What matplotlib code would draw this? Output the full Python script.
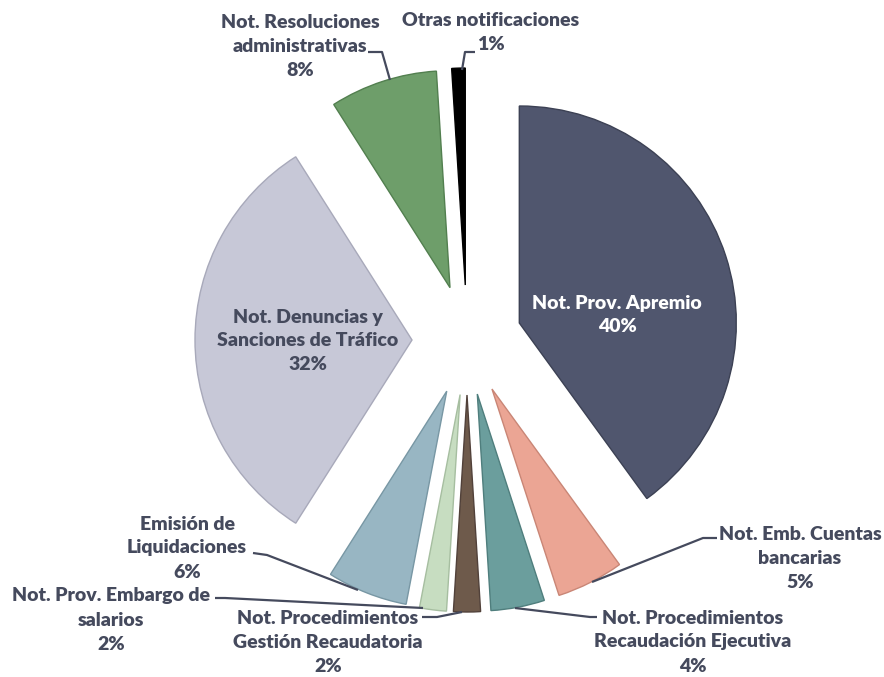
import matplotlib.pyplot as plt

# slice data, clockwise from 12 o'clock
categories = ['Not. Prov. Apremio', 'Not. Emb. Cuentas\nbancarias',
              'Not. Procedimientos\nRecaudación Ejecutiva',
              'Not. Procedimientos\nGestión Recaudatoria',
              'Not. Prov. Embargo de\nsalarios', 'Emisión de\nLiquidaciones',
              'Not. Denuncias y\nSanciones de Tráfico',
              'Not. Resoluciones\nadministrativas', 'Otras notificaciones']
shares = [40, 5, 4, 2, 2, 6, 32, 8, 1]
colors = ['#50566e', '#eba594', '#6b9e9d', '#6e5a4b', '#c7ddc1',
          '#98b6c3', '#c7c8d7', '#6e9e6a', '#000000']
edge_colors = ['#3c4154', '#c98676', '#4f7e7d', '#51413a', '#a6bea0',
               '#7897a4', '#a8a9ba', '#527f4f', '#000000']

# label placement in pixel coords (center of text) and leader lines
label_pos = [(617, 315), (800, 558), (693, 642), (328, 643), (111, 620),
             (187, 548), (308, 341), (300, 46), (491, 33)]
leaders = [None,
           [(592, 582), (703, 538), (717, 538)],
           [(515, 608), (590, 617), (597, 617)],
           [(462, 612), (437, 617), (422, 617)],
           [(423, 608), (225, 598), (215, 598)],
           [(358, 590), (267, 555), (253, 553)],
           None,
           [(390, 80), (382, 52), (368, 52)],
           [(462, 70), (465, 52), (475, 52)]]

W, H = 884, 677
fig = plt.figure(figsize=(W / 100, H / 100), dpi=100)
ax = fig.add_axes([0, 0, 1, 1])

center = (467, 340)
radius = 217
gap = 55

wedges, _ = ax.pie(shares, colors=colors, explode=[gap] * len(shares),
                   radius=radius, center=center, startangle=-90,
                   counterclock=True, frame=True,
                   wedgeprops=dict(linewidth=1.0))
for w, ec in zip(wedges, edge_colors):
    w.set_edgecolor(ec)

txt_color = '#454a5d'
for i, (lab, pct) in enumerate(zip(categories, shares)):
    x, y = label_pos[i]
    c = 'white' if i == 0 else txt_color
    ax.text(x, y, '%s\n%d%%' % (lab, pct), ha='center', va='center',
            color=c, fontsize=14, fontweight='heavy', family='Lato',
            linespacing=1.5)
    if leaders[i] is not None:
        xs = [p[0] for p in leaders[i]]
        ys = [p[1] for p in leaders[i]]
        ax.plot(xs, ys, color=txt_color, lw=1.6, solid_capstyle='butt')

ax.set_xlim(0, W)
ax.set_ylim(H, 0)
ax.set_aspect('equal')
ax.axis('off')

plt.savefig('out.png', dpi=100)
